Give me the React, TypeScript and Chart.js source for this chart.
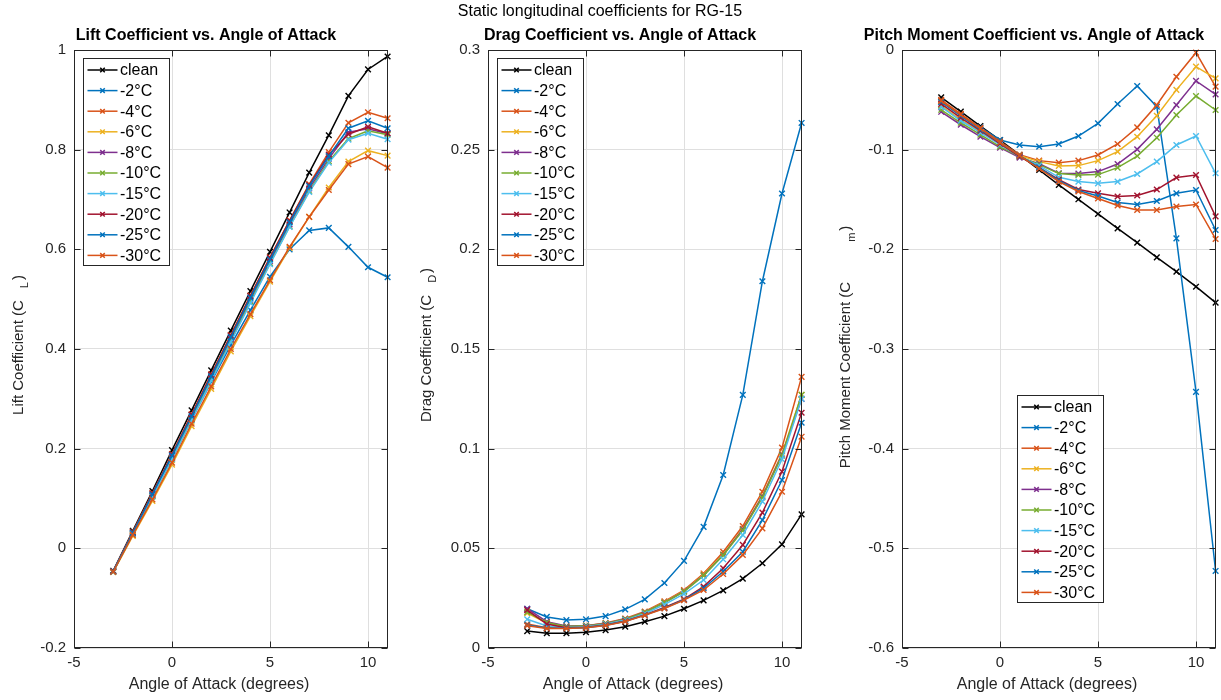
import React, { useEffect, useRef } from "react";
import { Chart, registerables } from "chart.js";

Chart.register(...registerables);

const FONT = '"Liberation Sans", Arial, Helvetica, sans-serif';
const AX = "#262626";

// ---------- data ----------
const aoa = [-3, -2, -1, 0, 1, 2, 3, 4, 5, 6, 7, 8, 9, 10, 11];
const seriesNames = ["clean", "-2°C", "-4°C", "-6°C", "-8°C", "-10°C", "-15°C", "-20°C", "-25°C", "-30°C"];
const seriesColors = ["#000000", "#0072BD", "#D95319", "#EDB120", "#7E2F8E", "#77AC30", "#4DBEEE", "#A2142F", "#0072BD", "#D95319"];

const xTicks = [-5, 0, 5, 10];
const liftTicks = [-0.2, 0, 0.2, 0.4, 0.6, 0.8, 1];
const dragTicks = [0, 0.05, 0.1, 0.15, 0.2, 0.25, 0.3];
const pitchTicks = [-0.6, -0.5, -0.4, -0.3, -0.2, -0.1, 0];

// Lift coefficient
const liftClean = [-0.045, 0.035, 0.115, 0.197, 0.277, 0.357, 0.437, 0.516, 0.595, 0.674, 0.754, 0.829, 0.908, 0.961, 0.987];
const liftM2 = [-0.047, 0.028, 0.105, 0.180, 0.258, 0.334, 0.408, 0.478, 0.545, 0.600, 0.638, 0.643, 0.605, 0.564, 0.544];
const liftM4 = [-0.046, 0.033, 0.111, 0.189, 0.269, 0.349, 0.428, 0.507, 0.584, 0.658, 0.731, 0.795, 0.854, 0.875, 0.863];
const liftM6 = [-0.048, 0.025, 0.095, 0.168, 0.245, 0.320, 0.395, 0.466, 0.535, 0.603, 0.665, 0.724, 0.776, 0.798, 0.788];
const liftM8 = [-0.047, 0.030, 0.106, 0.183, 0.262, 0.341, 0.420, 0.499, 0.576, 0.650, 0.722, 0.782, 0.835, 0.842, 0.832];
const liftM10 = [-0.047, 0.029, 0.104, 0.180, 0.259, 0.338, 0.416, 0.495, 0.572, 0.646, 0.717, 0.777, 0.822, 0.838, 0.830];
const liftM15 = [-0.047, 0.029, 0.104, 0.179, 0.257, 0.336, 0.414, 0.492, 0.570, 0.645, 0.715, 0.774, 0.820, 0.833, 0.821];
const liftM20 = [-0.046, 0.032, 0.110, 0.188, 0.268, 0.348, 0.427, 0.506, 0.583, 0.657, 0.729, 0.790, 0.831, 0.846, 0.833];
const liftM25 = [-0.046, 0.031, 0.108, 0.186, 0.265, 0.345, 0.424, 0.503, 0.580, 0.654, 0.727, 0.787, 0.843, 0.858, 0.843];
const liftM30 = [-0.047, 0.027, 0.098, 0.172, 0.250, 0.325, 0.400, 0.470, 0.538, 0.605, 0.665, 0.719, 0.771, 0.786, 0.764];

// Drag coefficient
const dragClean = [0.0085, 0.0074, 0.0074, 0.0079, 0.0090, 0.0107, 0.0132, 0.0160, 0.0197, 0.0239, 0.0289, 0.0348, 0.0425, 0.052, 0.067];
const dragM2 = [0.0197, 0.0156, 0.0140, 0.0144, 0.0160, 0.0194, 0.0244, 0.0326, 0.0437, 0.0608, 0.0868, 0.127, 0.184, 0.228, 0.2634];
const dragM4 = [0.0120, 0.0102, 0.0105, 0.0112, 0.0125, 0.0148, 0.0183, 0.0234, 0.0290, 0.0374, 0.0482, 0.0612, 0.0784, 0.1005, 0.136];
const dragM6 = [0.0175, 0.0125, 0.0108, 0.0112, 0.0123, 0.0145, 0.0180, 0.0230, 0.0286, 0.0368, 0.0470, 0.0598, 0.0765, 0.0975, 0.127];
const dragM8 = [0.0197, 0.0132, 0.0110, 0.0112, 0.0123, 0.0145, 0.0179, 0.0228, 0.0284, 0.0365, 0.0467, 0.0595, 0.0760, 0.0970, 0.125];
const dragM10 = [0.0180, 0.0128, 0.0108, 0.0111, 0.0122, 0.0144, 0.0178, 0.0227, 0.0283, 0.0363, 0.0465, 0.0590, 0.0755, 0.0965, 0.127];
const dragM15 = [0.0144, 0.0110, 0.0103, 0.0107, 0.0119, 0.0140, 0.0172, 0.0218, 0.0271, 0.0341, 0.0445, 0.0567, 0.0735, 0.0947, 0.125];
const dragM20 = [0.0190, 0.0120, 0.0102, 0.0104, 0.0115, 0.0135, 0.0166, 0.0203, 0.0245, 0.0308, 0.0400, 0.0517, 0.0679, 0.0885, 0.118];
const dragM25 = [0.0115, 0.0100, 0.0099, 0.0102, 0.0114, 0.0134, 0.0165, 0.0200, 0.0242, 0.0300, 0.0384, 0.0483, 0.0642, 0.0843, 0.113];
const dragM30 = [0.0112, 0.0098, 0.0098, 0.0101, 0.0113, 0.0133, 0.0164, 0.0198, 0.0240, 0.0291, 0.0371, 0.0467, 0.0600, 0.0784, 0.106];

// Pitch moment coefficient
const pitchClean = [-0.0475, -0.0619, -0.0763, -0.0903, -0.1053, -0.1204, -0.1354, -0.1498, -0.1645, -0.179, -0.1933, -0.208, -0.2224, -0.2375, -0.2535];
const pitchM2 = [-0.0518, -0.0652, -0.0776, -0.0903, -0.0953, -0.097, -0.0943, -0.0863, -0.0736, -0.0542, -0.0361, -0.0569, -0.189, -0.343, -0.5227];
const pitchM4 = [-0.050, -0.064, -0.078, -0.092, -0.105, -0.111, -0.113, -0.111, -0.1053, -0.0943, -0.0776, -0.0552, -0.0268, -0.0027, -0.0368];
const pitchM6 = [-0.056, -0.070, -0.082, -0.094, -0.106, -0.112, -0.1164, -0.116, -0.111, -0.102, -0.087, -0.066, -0.040, -0.0167, -0.0284];
const pitchM8 = [-0.062, -0.075, -0.087, -0.098, -0.108, -0.114, -0.1237, -0.124, -0.122, -0.1144, -0.0997, -0.0796, -0.0552, -0.031, -0.0445];
const pitchM10 = [-0.060, -0.073, -0.085, -0.097, -0.107, -0.115, -0.124, -0.1254, -0.125, -0.118, -0.1064, -0.088, -0.0652, -0.0462, -0.0602];
const pitchM15 = [-0.057, -0.071, -0.083, -0.095, -0.107, -0.116, -0.1277, -0.132, -0.1338, -0.132, -0.1244, -0.112, -0.0953, -0.0863, -0.1237];
const pitchM20 = [-0.054, -0.068, -0.081, -0.094, -0.107, -0.118, -0.130, -0.140, -0.1438, -0.147, -0.146, -0.140, -0.128, -0.1254, -0.167];
const pitchM25 = [-0.052, -0.066, -0.080, -0.093, -0.106, -0.118, -0.131, -0.141, -0.1465, -0.153, -0.155, -0.1515, -0.1438, -0.1405, -0.1806];
const pitchM30 = [-0.051, -0.065, -0.079, -0.093, -0.106, -0.119, -0.132, -0.142, -0.149, -0.156, -0.1605, -0.1605, -0.157, -0.155, -0.1896];

const superTitle = "Static longitudinal coefficients for RG-15";
const xLabel = "Angle of Attack (degrees)";

type Panel = {
  left: number;
  values: number[][];
  yMin: number;
  yMax: number;
  yTicks: number[];
  title: string;
  yMain: string;
  ySub: string;
  yGap: number;
  yLabelX: number;
  yLabelY: number;
  legendX: number;
  legendY: number;
  drawSuper: boolean;
};

const panels: Panel[] = [
  {
    left: 0,
    values: [liftClean, liftM2, liftM4, liftM6, liftM8, liftM10, liftM15, liftM20, liftM25, liftM30],
    yMin: -0.2, yMax: 1, yTicks: liftTicks,
    title: "Lift Coefficient vs. Angle of Attack",
    yMain: "Lift Coefficient (C", ySub: "L", yGap: 12, yLabelX: 18.5, yLabelY: 345,
    legendX: 9, legendY: 8, drawSuper: false,
  },
  {
    left: 414,
    values: [dragClean, dragM2, dragM4, dragM6, dragM8, dragM10, dragM15, dragM20, dragM25, dragM30],
    yMin: 0, yMax: 0.3, yTicks: dragTicks,
    title: "Drag Coefficient vs. Angle of Attack",
    yMain: "Drag Coefficient (C", ySub: "D", yGap: 12, yLabelX: 13, yLabelY: 345,
    legendX: 9, legendY: 8, drawSuper: true,
  },
  {
    left: 828,
    values: [pitchClean, pitchM2, pitchM4, pitchM6, pitchM8, pitchM10, pitchM15, pitchM20, pitchM25, pitchM30],
    yMin: -0.6, yMax: 0, yTicks: pitchTicks,
    title: "Pitch Moment Coefficient vs. Angle of Attack",
    yMain: "Pitch Moment Coefficient (C", ySub: "m", yGap: 40, yLabelX: 17.5, yLabelY: 347,
    legendX: 115, legendY: 345, drawSuper: false,
  },
];

const CANVAS_W = 393;
const CANVAS_H = 700;

function fmt(v: number) {
  return String(Number(v.toFixed(4)));
}

function drawCross(ctx: CanvasRenderingContext2D, x: number, y: number, r: number) {
  const o = r * Math.SQRT1_2;
  ctx.beginPath();
  ctx.moveTo(x - o, y - o);
  ctx.lineTo(x + o, y + o);
  ctx.moveTo(x - o, y + o);
  ctx.lineTo(x + o, y - o);
  ctx.stroke();
}

function makeDecor(p: Panel) {
  return {
    id: "decor",
    afterDatasetsDraw(chart: any) {
      const ctx: CanvasRenderingContext2D = chart.ctx;
      const a = chart.chartArea;
      const sx = chart.scales.x;
      const sy = chart.scales.y;
      ctx.save();
      ctx.strokeStyle = AX;
      ctx.lineWidth = 1;
      const tl = 6;
      const L = Math.round(a.left) + 0.5;
      const R = Math.round(a.right) - 0.5;
      const T = Math.round(a.top) + 0.5;
      const B = Math.round(a.bottom) - 0.5;
      ctx.beginPath();
      xTicks.forEach((v) => {
        const px = Math.round(sx.getPixelForValue(v)) + 0.5;
        ctx.moveTo(px, B);
        ctx.lineTo(px, B - tl);
        ctx.moveTo(px, T);
        ctx.lineTo(px, T + tl);
      });
      p.yTicks.forEach((v) => {
        const py = Math.round(sy.getPixelForValue(v)) + 0.5;
        ctx.moveTo(L, py);
        ctx.lineTo(L + tl, py);
        ctx.moveTo(R, py);
        ctx.lineTo(R - tl, py);
      });
      ctx.stroke();
      ctx.strokeRect(L, T, R - L, B - T);

      // legend
      const lx = Math.round(a.left + p.legendX) + 0.5;
      const ly = Math.round(a.top + p.legendY) + 0.5;
      const rowH = 20.6;
      const lw = 86;
      const lh = Math.round(rowH * seriesNames.length + 1);
      ctx.fillStyle = "#ffffff";
      ctx.fillRect(lx, ly, lw, lh);
      ctx.strokeStyle = AX;
      ctx.lineWidth = 1;
      ctx.strokeRect(lx, ly, lw, lh);
      ctx.font = `16px ${FONT}`;
      ctx.textBaseline = "middle";
      ctx.textAlign = "left";
      seriesNames.forEach((name, i) => {
        const cy = ly + 11.5 + i * rowH;
        ctx.strokeStyle = seriesColors[i];
        ctx.lineWidth = 1.5;
        ctx.beginPath();
        ctx.moveTo(lx + 4, cy);
        ctx.lineTo(lx + 34, cy);
        ctx.stroke();
        drawCross(ctx, lx + 19, cy, 3.2);
        ctx.fillStyle = "#000000";
        ctx.fillText(name, lx + 36.5, cy + 1);
      });

      // titles
      ctx.fillStyle = "#000000";
      ctx.textAlign = "center";
      ctx.textBaseline = "middle";
      ctx.font = `bold 16px ${FONT}`;
      ctx.fillText(p.title, 206, 36);
      ctx.fillStyle = AX;
      ctx.font = `16px ${FONT}`;
      ctx.fillText(xLabel, 219, 685);
      if (p.drawSuper) {
        ctx.fillStyle = "#000000";
        ctx.fillText(superTitle, 600 - p.left, 12);
      }

      // y label with subscript
      ctx.save();
      ctx.translate(p.yLabelX, p.yLabelY);
      ctx.rotate(-Math.PI / 2);
      ctx.fillStyle = AX;
      ctx.textAlign = "left";
      ctx.textBaseline = "middle";
      ctx.font = `15px ${FONT}`;
      const w1 = ctx.measureText(p.yMain).width;
      const wc = ctx.measureText(")").width;
      ctx.font = `11px ${FONT}`;
      const ws = ctx.measureText(p.ySub).width;
      const total = w1 + p.yGap + ws + 2 + wc;
      const x0 = -total / 2;
      ctx.font = `15px ${FONT}`;
      ctx.fillText(p.yMain, x0, 0);
      ctx.font = `11px ${FONT}`;
      ctx.fillText(p.ySub, x0 + w1 + p.yGap, 6);
      ctx.font = `15px ${FONT}`;
      ctx.fillText(")", x0 + w1 + p.yGap + ws + 2, 0);
      ctx.restore();

      ctx.restore();
    },
  };
}

function PanelChart({ p }: { p: Panel }) {
  const ref = useRef<HTMLCanvasElement | null>(null);
  useEffect(() => {
    if (!ref.current) return;
    const n = p.values.length;
    const datasets = p.values.map((vals, i) => ({
      label: seriesNames[i],
      data: aoa.map((x, k) => ({ x, y: vals[k] })),
      borderColor: seriesColors[i],
      backgroundColor: seriesColors[i],
      pointBorderColor: seriesColors[i],
      borderWidth: 1.5,
      pointStyle: "crossRot",
      pointRadius: 4,
      pointBorderWidth: 1.4,
      pointHoverRadius: 4,
      showLine: true,
      tension: 0,
      fill: false,
      clip: false,
      order: n - i,
    }));
    const chart = new Chart(ref.current, {
      type: "scatter",
      data: { datasets },
      plugins: [makeDecor(p)],
      options: {
        animation: false,
        responsive: false,
        events: [],
        layout: { padding: { top: 50, right: 4, left: 0, bottom: 0 } },
        plugins: { legend: { display: false }, tooltip: { enabled: false }, title: { display: false } },
        scales: {
          x: {
            type: "linear",
            min: -5,
            max: 11,
            afterBuildTicks: (s: any) => {
              s.ticks = xTicks.map((v) => ({ value: v }));
            },
            afterFit: (s: any) => {
              s.height = 52;
            },
            grid: { color: "#dfdfdf", lineWidth: 1, drawTicks: false },
            border: { display: false },
            ticks: {
              padding: 6,
              color: AX,
              font: { family: FONT, size: 15 },
              maxRotation: 0,
              autoSkip: false,
              callback: (v: any) => fmt(Number(v)),
            },
          },
          y: {
            type: "linear",
            min: p.yMin,
            max: p.yMax,
            afterBuildTicks: (s: any) => {
              s.ticks = p.yTicks.map((v) => ({ value: v }));
            },
            afterFit: (s: any) => {
              s.width = 74;
            },
            grid: { color: "#dfdfdf", lineWidth: 1, drawTicks: false },
            border: { display: false },
            ticks: {
              padding: 8,
              color: AX,
              font: { family: FONT, size: 15 },
              autoSkip: false,
              callback: (v: any) => fmt(Number(v)),
            },
          },
        },
      } as any,
    });
    return () => chart.destroy();
  }, [p]);
  return (
    <canvas
      ref={ref}
      width={CANVAS_W}
      height={CANVAS_H}
      style={{ position: "absolute", left: p.left, top: 0, width: CANVAS_W, height: CANVAS_H }}
    />
  );
}

export default function App() {
  return (
    <div style={{ position: "fixed", left: 0, top: 0, width: 1221, height: 700, background: "#ffffff", overflow: "hidden" }}>
      {panels.map((p, i) => (
        <PanelChart key={i} p={p} />
      ))}
    </div>
  );
}
